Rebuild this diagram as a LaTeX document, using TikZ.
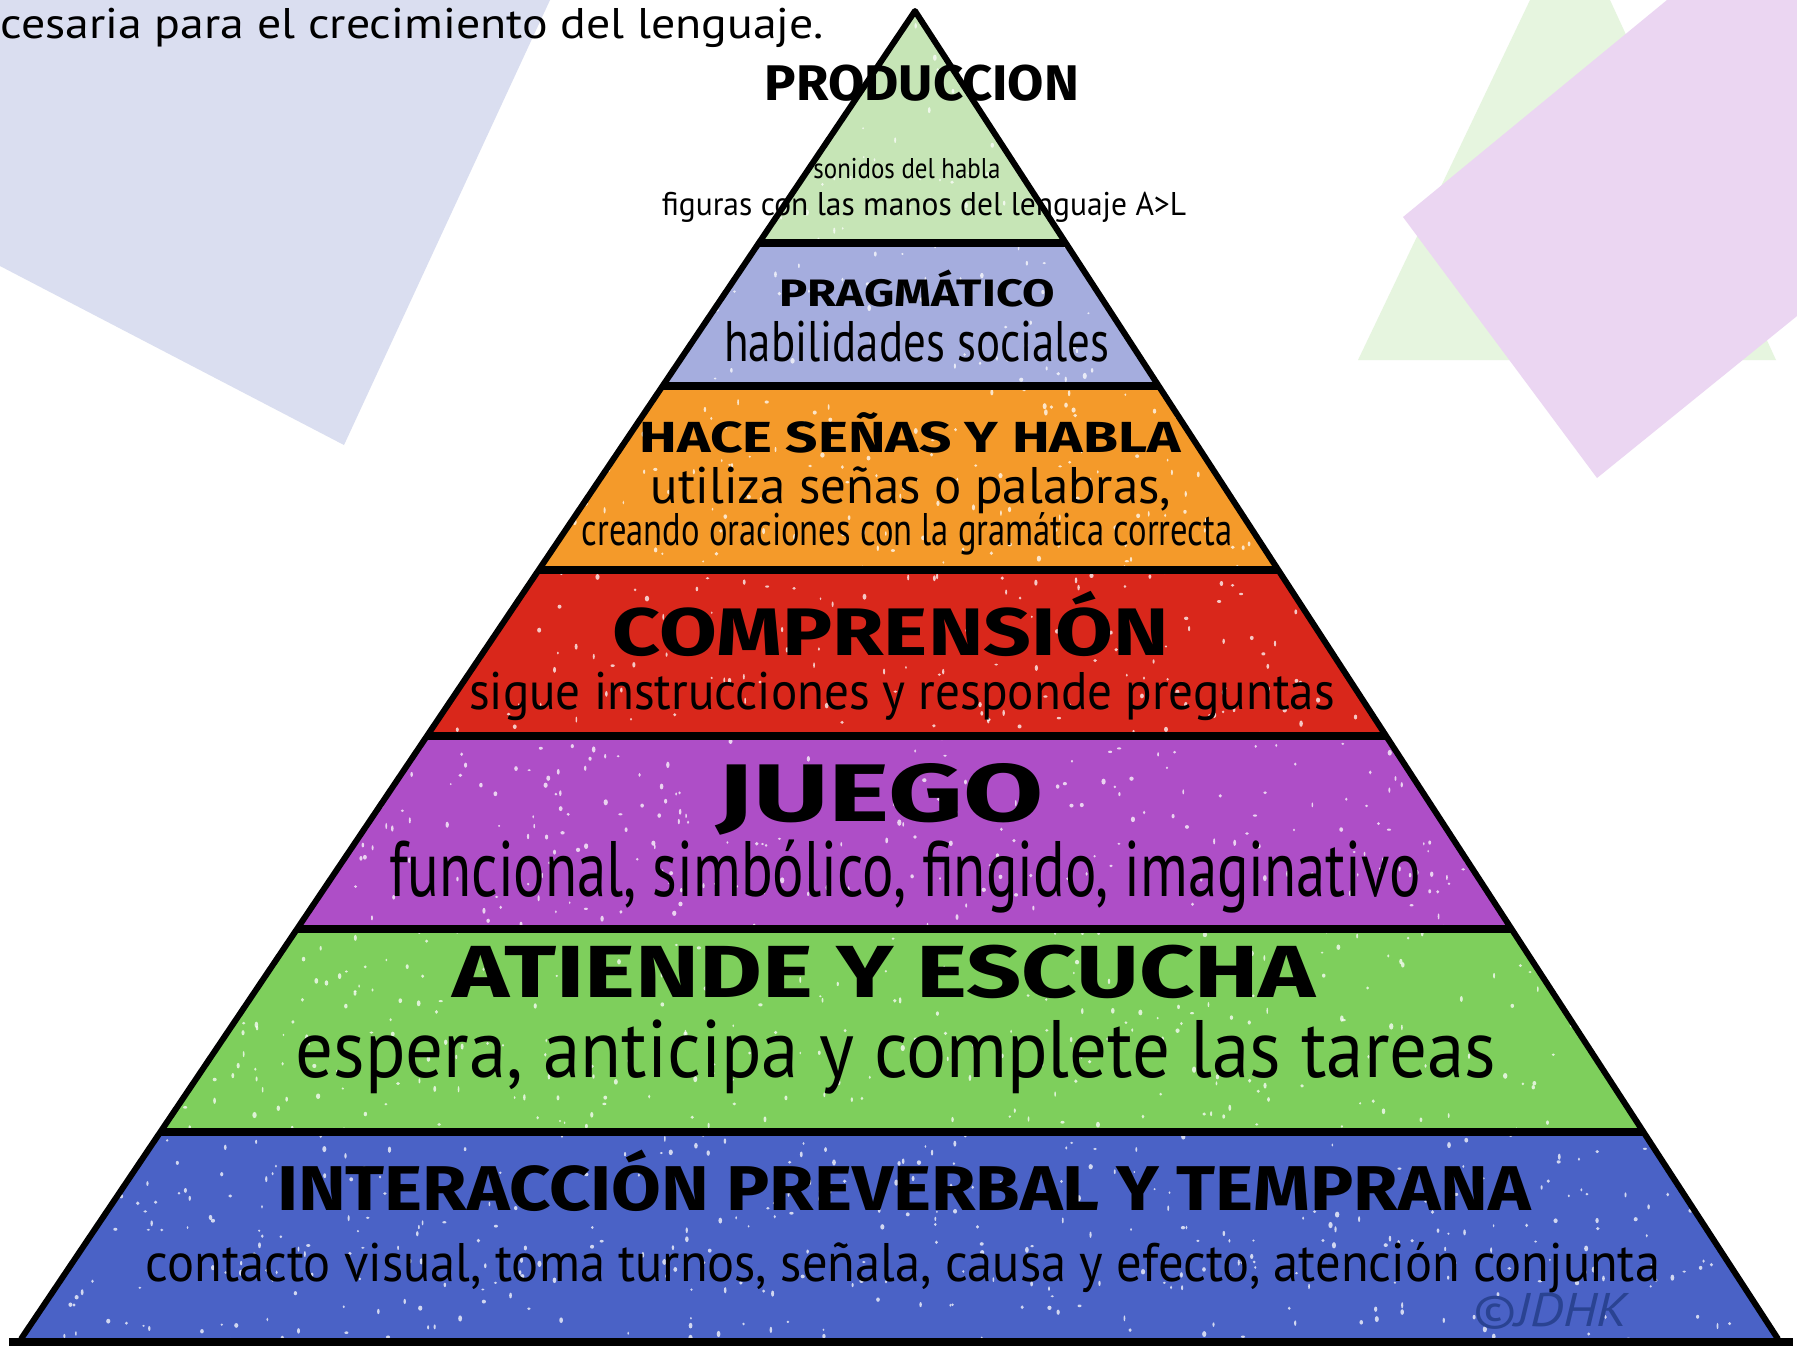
\documentclass[tikz,border=0pt]{standalone}
\usepackage{fontspec}
\usepackage{graphicx}
\usetikzlibrary{calc,positioning}
\setmainfont{PT Sans}
\newfontfamily\brushfont{Fira Sans}
\newfontfamily\handfont{PT Sans}

\definecolor{bglav}{HTML}{DADEF0}
\definecolor{bggreen}{HTML}{E6F5DF}
\definecolor{bglilac}{HTML}{EBD6F2}
\definecolor{prodgreen}{HTML}{C6E5B6}
\definecolor{pragblue}{HTML}{A5ADDE}
\definecolor{senaorange}{HTML}{F49A2A}
\definecolor{comprred}{HTML}{D9271B}
\definecolor{juegopurple}{HTML}{AE4EC7}
\definecolor{atigreen}{HTML}{7ECF5C}
\definecolor{interblue}{HTML}{4A62C6}
\definecolor{signblue}{HTML}{2A4392}

\newcommand{\fit}[3]{\resizebox{#1}{#2}{\smash{#3}\vphantom{Hl}}}

\begin{document}
\begin{tikzpicture}[%
    x=0.01cm,
    y=-0.01cm,
    sep/.style={line width=0.08cm, black},
    ttl/.style={font=\brushfont\bfseries, anchor=base, inner sep=0pt},
    sub/.style={font=\handfont, anchor=base, inner sep=0pt}
  ]
  \useasboundingbox[fill=white] (0,0) rectangle (1797,1347);

  \fill[bglav] (0,0) -- (550,0) -- (344,445) -- (0,266) -- cycle;
  \fill[bggreen] (1530,0) -- (1610,0) -- (1776,360) -- (1358,360) -- cycle;
  \fill[bglilac] (1667,0) -- (1797,0) -- (1797,316) -- (1597,478) -- (1403,217) -- cycle;

  \node[anchor=base west, inner sep=0pt] (intro) at (0,38)
    {\fit{8.23cm}{0.30cm}{cesaria para el crecimiento del lenguaje.}};

  \coordinate (apex) at (915,11);
  \coordinate (bl) at (21,1339);
  \coordinate (br) at (1778,1339);

  \foreach \ta/\tb/\col in {0/0.1747/prodgreen, 0.1747/0.2824/pragblue,
      0.2824/0.4209/senaorange, 0.4209/0.5459/comprred,
      0.5459/0.6913/juegopurple, 0.6913/0.8441/atigreen, 0.8441/1/interblue}
    \fill[\col] ($(apex)!\ta!(bl)$) -- ($(apex)!\ta!(br)$)
      -- ($(apex)!\tb!(br)$) -- ($(apex)!\tb!(bl)$) -- cycle;

  \begin{scope}
    \clip (apex) -- (bl) -- (br) -- cycle;
    \pgfmathsetseed{17}
    \foreach \i in {1,...,2600}
      \fill[white, opacity=0.75] ({rnd*1797},{rnd*1347})
        ellipse[x radius={0.8+rnd*1.4}, y radius={1+rnd*2.2}];
  \end{scope}

  \foreach \t in {0.1747, 0.2824, 0.4209, 0.5459, 0.6913, 0.8441}
    \draw[sep] ($(apex)!\t!(bl)$) -- ($(apex)!\t!(br)$);
  \draw[line width=0.06cm, line join=round] (bl) -- (apex) -- (br);
  \draw[line width=0.08cm] ($(bl)+(-12,3)$) -- ($(br)+(15,3)$);

  \node[ttl] (t1) at (922,100) {\fit{3.14cm}{0.38cm}{PRODUCCION}};
  \node[sub] (s1a) at (907,178) {\fit{1.87cm}{0.20cm}{sonidos del habla}};
  \node[sub] (s1b) at (924,215) {\fit{5.24cm}{0.23cm}{figuras con las manos del lenguaje A>L}};

  \node[ttl] (t2) at (917,306) {\fit{2.75cm}{0.29cm}{PRAGMÁTICO}};
  \node[sub] (s2) at (917,361) {\fit{3.85cm}{0.40cm}{habilidades sociales}};

  \node[ttl] (t3) at (910,452) {\fit{5.41cm}{0.33cm}{HACE SEÑAS Y HABLA}};
  \node[sub] (s3a) at (911,503) {\fit{5.20cm}{0.36cm}{utiliza señas o palabras,}};
  \node[sub] (s3b) at (907,545) {\fit{6.50cm}{0.32cm}{creando oraciones con la gramática correcta}};

  \node[ttl] (t4) at (891,655) {\fit{5.56cm}{0.51cm}{COMPRENSIÓN}};
  \node[sub] (s4) at (902,709) {\fit{8.65cm}{0.37cm}{sigue instrucciones y responde preguntas}};

  \node[ttl] (t5) at (880,821) {\fit{3.27cm}{0.62cm}{JUEGO}};
  \node[sub] (s5) at (905,896) {\fit{10.31cm}{0.55cm}{funcional, simbólico, fingido, imaginativo}};

  \node[ttl] (t6) at (884,997) {\fit{8.63cm}{0.56cm}{ATIENDE Y ESCUCHA}};
  \node[sub] (s6) at (896,1077) {\fit{12.00cm}{0.57cm}{espera, anticipa y complete las tareas}};

  \node[ttl] (t7) at (904,1210) {\fit{12.53cm}{0.48cm}{INTERACCIÓN PREVERBAL Y TEMPRANA}};
  \node[sub] (s7) at (903,1281) {\fit{15.13cm}{0.38cm}{contacto visual, toma turnos, señala, causa y efecto, atención conjunta}};

  \node[sub, text=signblue, font=\handfont\itshape] (sign) at (1550,1326) {\fit{1.55cm}{0.33cm}{©JDHK}};
\end{tikzpicture}
\end{document}
